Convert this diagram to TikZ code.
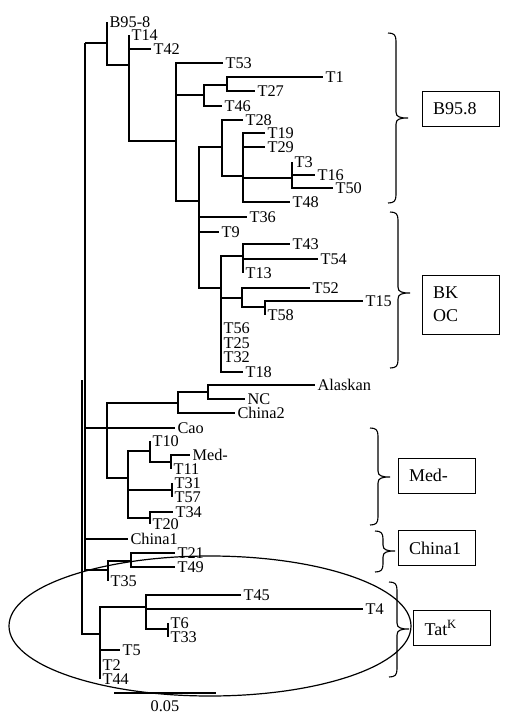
\documentclass[tikz,border=0pt]{standalone}
\usepackage{fontspec}
\setmainfont{Liberation Serif}

\tikzset{
  leaf/.style={anchor=west, inner xsep=2pt, inner ysep=0.5pt, font=\fontsize{16.3}{18}\selectfont},
  grpbox/.style={draw, line width=0.8pt, minimum height=35pt, text width=55pt,
                 inner xsep=11pt, align=left, font=\fontsize{18}{22}\selectfont}
}
% right brace: x of the stem, top, middle, bottom
\newcommand{\grpbrace}[4]{%
  \draw[line width=1.1pt] (#1-8,#2) .. controls (#1-2,#2) and (#1,#2+2) .. (#1,#2+8)
    -- (#1,#3-6) .. controls (#1,#3-1) and (#1+4,#3) .. (#1+12,#3)
    .. controls (#1+4,#3) and (#1,#3+1) .. (#1,#3+6)
    -- (#1,#4-8) .. controls (#1,#4-2) and (#1-2,#4) .. (#1-8,#4);}

\begin{document}
\begin{tikzpicture}[x=1pt, y=-1pt, line width=1.2pt]
    \useasboundingbox (0,0) rectangle (508,723);

    % inner nodes of the tree
    \coordinate (r)   at (85,43);
    \coordinate (r2)  at (82,380);
    \coordinate (n1)  at (107,43);
    \coordinate (n2)  at (129,65);
    \coordinate (n3)  at (176,141);
    \coordinate (n4)  at (204,95);
    \coordinate (n5)  at (227,85);
    \coordinate (n6)  at (199,201);
    \coordinate (n7)  at (222,147);
    \coordinate (n8)  at (243,176);
    \coordinate (n9)  at (292,178);
    \coordinate (n10) at (221,288);
    \coordinate (n11) at (243,256);
    \coordinate (n12) at (242,298);
    \coordinate (n13) at (265,307);
    \coordinate (m)   at (107,428);
    \coordinate (n14) at (178,403);
    \coordinate (n15) at (208,392);
    \coordinate (n16) at (128,478);
    \coordinate (n17) at (150,451);
    \coordinate (n18) at (171,462);
    \coordinate (n19) at (172,490);
    \coordinate (n20) at (150,518);
    \coordinate (n21) at (108,570);
    \coordinate (n22) at (131,561);
    \coordinate (n23) at (100,634);
    \coordinate (n24) at (146,607);
    \coordinate (n25) at (168,629);

    % leaves
    \node[leaf] (b958)    at (107,22)  {B95-8};
    \node[leaf] (t14)     at (129,35)  {T14};
    \node[leaf] (t42)     at (151,49)  {T42};
    \node[leaf] (t53)     at (223,63)  {T53};
    \node[leaf] (t1)      at (323,77)  {T1};
    \node[leaf] (t27)     at (255,91)  {T27};
    \node[leaf] (t46)     at (222,106) {T46};
    \node[leaf] (t28)     at (243,120) {T28};
    \node[leaf] (t19)     at (265,133) {T19};
    \node[leaf] (t29)     at (265,147) {T29};
    \node[leaf] (t3)      at (292,162) {T3};
    \node[leaf] (t16)     at (315,175) {T16};
    \node[leaf] (t50)     at (333,188) {T50};
    \node[leaf] (t48)     at (290,202) {T48};
    \node[leaf] (t36)     at (247,217) {T36};
    \node[leaf] (t9)      at (219,232) {T9};
    \node[leaf] (t43)     at (290,244) {T43};
    \node[leaf] (t54)     at (318,259) {T54};
    \node[leaf] (t13)     at (243,273) {T13};
    \node[leaf] (t52)     at (310,288) {T52};
    \node[leaf] (t15)     at (363,301) {T15};
    \node[leaf] (t58)     at (265,315) {T58};
    \node[leaf] (t56)     at (221,328) {T56};
    \node[leaf] (t25)     at (221,343) {T25};
    \node[leaf] (t32)     at (221,357) {T32};
    \node[leaf] (t18)     at (243,372) {T18};
    \node[leaf] (alaskan) at (315,385) {Alaskan};
    \node[leaf] (nc)      at (245,399) {NC};
    \node[leaf] (china2)  at (235,413) {China2};
    \node[leaf] (cao)     at (175,428) {Cao};
    \node[leaf] (t10)     at (150,441) {T10};
    \node[leaf] (med)     at (190,455) {Med-};
    \node[leaf] (t11)     at (171,469) {T11};
    \node[leaf] (t31)     at (172,483) {T31};
    \node[leaf] (t57)     at (172,497) {T57};
    \node[leaf] (t34)     at (173,512) {T34};
    \node[leaf] (t20)     at (150,524) {T20};
    \node[leaf] (china1)  at (128,539) {China1};
    \node[leaf] (t21)     at (175,553) {T21};
    \node[leaf] (t49)     at (175,567) {T49};
    \node[leaf] (t35)     at (108,581) {T35};
    \node[leaf] (t45)     at (241,595) {T45};
    \node[leaf] (t4)      at (363,609) {T4};
    \node[leaf] (t6)      at (168,623) {T6};
    \node[leaf] (t33)     at (168,637) {T33};
    \node[leaf] (t5)      at (120,650) {T5};
    \node[leaf] (t2)      at (100,665) {T2};
    \node[leaf] (t44)     at (100,679) {T44};

    % branches
    \foreach \p/\c in {r/n1, n1/b958, n1/n2, n2/t14, n2/t42, n2/n3, n3/t53, n3/n4,
        n4/n5, n5/t1, n5/t27, n4/t46, n3/n6, n6/n7, n7/t28, n7/n8, n8/t19, n8/t29,
        n8/n9, n9/t3, n9/t16, n9/t50, n8/t48, n6/t36, n6/t9, n6/n10, n10/n11,
        n11/t43, n11/t54, n11/t13, n10/n12, n12/t52, n12/n13, n13/t15, n13/t58,
        n10/t56, n10/t25, n10/t32, n10/t18, r/m, m/n14, n14/n15, n15/alaskan,
        n15/nc, n14/china2, m/cao, m/n16, n16/n17, n17/t10, n17/n18, n18/med,
        n18/t11, n16/n19, n19/t31, n19/t57, n16/n20, n20/t34, n20/t20, r/china1,
        r/n21, n21/n22, n22/t21, n22/t49, n21/t35, r2/n23, n23/n24, n24/t45,
        n24/t4, n24/n25, n25/t6, n25/t33, n23/t5, n23/t2, n23/t44}
        \draw (\p) |- (\c);

    % scale bar
    \coordinate (sbl) at (114,693);
    \coordinate (sbr) at (216,693);
    \draw (sbl) -- (sbr) node[midway, below=7pt, leaf, anchor=north] (sblabel) {0.05};

    % circled group
    \draw (210,626) ellipse [x radius=201, y radius=70];

    % groups
    \grpbrace{396}{33}{118}{203}
    \grpbrace{398}{212}{293}{368}
    \grpbrace{378}{428}{477}{525}
    \grpbrace{383}{531}{551}{572}
    \grpbrace{397}{582}{629}{677}

    \node[grpbox] (gb958) at (460.5,108.5) {B95.8};
    \node[grpbox, minimum height=59pt] (gbkoc) at (460.5,304.5) {BK\\[1pt]OC};
    \node[grpbox] (gmed) at (436.5,475.5) {Med-};
    \node[grpbox] (gchina) at (436.5,548) {China1};
    \node[grpbox] (gtat) at (452,628) {Tat\textsuperscript{K}};
\end{tikzpicture}
\end{document}
